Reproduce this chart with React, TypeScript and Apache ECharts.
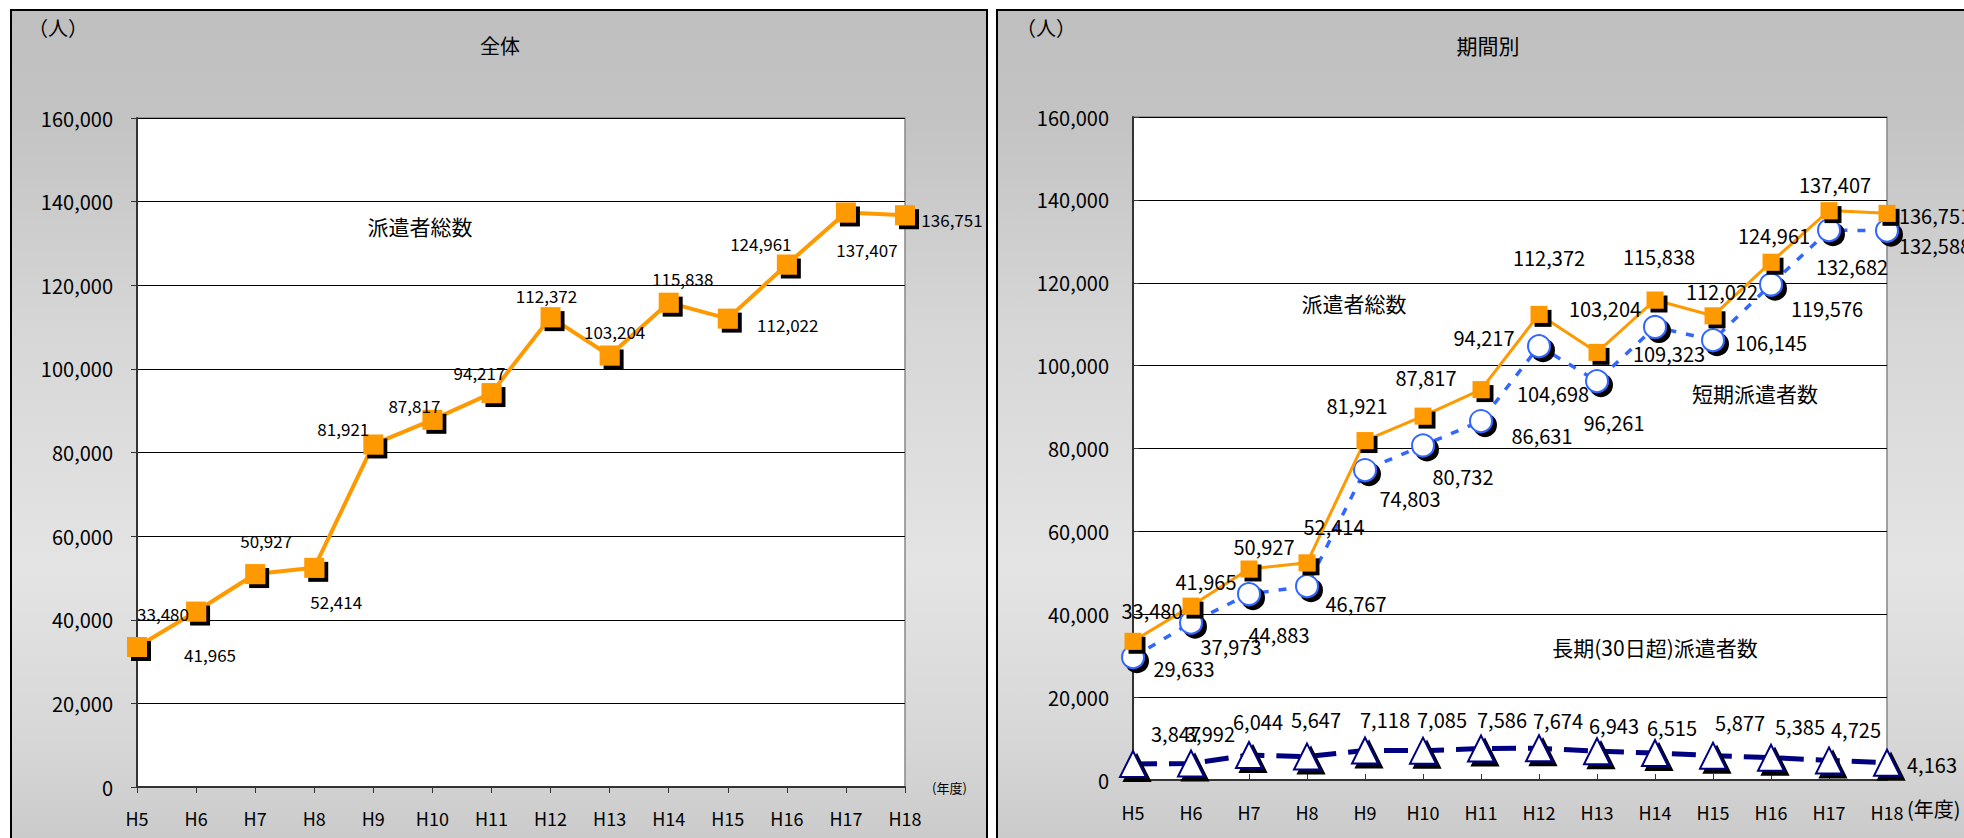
import React, { useEffect, useRef } from "react";
import * as echarts from "echarts";

const categories = ["H5", "H6", "H7", "H8", "H9", "H10", "H11", "H12", "H13", "H14", "H15", "H16", "H17", "H18"];
const totalValues = [33480, 41965, 50927, 52414, 81921, 87817, 94217, 112372, 103204, 115838, 112022, 124961, 137407, 136751];
const shortTermValues = [29633, 37973, 44883, 46767, 74803, 80732, 86631, 104698, 96261, 109323, 106145, 119576, 132682, 132588];
const longTermValues = [3847, 3992, 6044, 5647, 7118, 7085, 7586, 7674, 6943, 6515, 5877, 5385, 4725, 4163];
const yMin = 0;
const yMax = 160000;
const yInterval = 20000;

// label offsets (layout only)
const leftTotalOffsets = [[26, -34], [14, 43], [11, -34], [22, 34], [-30, -16], [-18, -14], [-12, -21], [-4, -22], [5, -24], [14, -24], [60, 6], [-26, -21], [21, 37], [47, 4]];
const rightTotalOffsets = [[19, -31], [15, -25], [15, -22], [27, -36], [-8, -35], [3, -39], [3, -52], [10, -57], [8, -44], [4, -43], [9, -24], [3, -27], [6, -26], [48, 2]];
const shortOffsets = [[51, 11], [40, 24], [30, 40], [49, 17], [45, 28], [40, 31], [61, 14], [14, 47], [17, 41], [14, 27], [58, 2], [56, 24], [23, 36], [48, 15]];
const longOffsets = [[43, -31], [19, -30], [9, -33], [9, -37], [20, -31], [19, -31], [21, -29], [19, -28], [17, -26], [17, -26], [27, -33], [29, -31], [27, -31], [45, 2]];

const FONT = '"Noto Sans CJK JP", "Noto Sans", sans-serif';
const fmt = (v: number) => v.toLocaleString("en-US");

function withOffsets(values: number[], offsets: number[][]) {
  return values.map((v, i) => ({ value: v, label: { offset: offsets[i] } }));
}

function labelBase(size: number) {
  return {
    show: true,
    position: "inside",
    formatter: (p: any) => fmt(p.value),
    color: "#000",
    fontSize: size,
    fontFamily: FONT,
    textBorderWidth: 0,
    textBorderColor: "transparent",
  };
}

const bgFill = {
  type: "linear",
  x: 0,
  y: 0,
  x2: 0,
  y2: 1,
  colorStops: [
    { offset: 0, color: "#bfbfbf" },
    { offset: 0.12, color: "#c3c3c3" },
    { offset: 0.35, color: "#d6d6d6" },
    { offset: 0.62, color: "#e4e4e4" },
    { offset: 0.82, color: "#d6d6d6" },
    { offset: 1, color: "#c2c2c2" },
  ],
};

function xAxis(gridIndex: number, inside: boolean, margin: number) {
  return {
    type: "category",
    gridIndex,
    data: categories,
    boundaryGap: false,
    axisLine: { show: true, lineStyle: { color: "#333", width: 2 } },
    axisTick: { show: true, inside, length: 6, lineStyle: { color: "#333" } },
    axisLabel: { interval: 0, color: "#000", fontSize: 18, fontFamily: FONT, margin },
    splitLine: { show: false },
  };
}

function yAxis(gridIndex: number, inside: boolean) {
  return {
    type: "value",
    gridIndex,
    min: yMin,
    max: yMax,
    interval: yInterval,
    axisLine: { show: true, lineStyle: { color: "#333", width: 2 } },
    axisTick: { show: true, inside, length: 6, lineStyle: { color: "#333" } },
    axisLabel: { color: "#000", fontSize: 20, fontFamily: FONT, margin: 24, formatter: (v: number) => fmt(v) },
    splitLine: { show: true, lineStyle: { color: "#000", width: 1 } },
  };
}

function txt(x: number, y: number, text: string, size: number, align = "center") {
  return {
    type: "text",
    x,
    y,
    z: 20,
    style: { text, fill: "#000", font: `${size}px ${FONT}`, align, verticalAlign: "middle" },
  };
}

export default function App() {
  const ref = useRef<HTMLDivElement>(null);
  useEffect(() => {
    if (!ref.current) return;
    const chart = echarts.init(ref.current, undefined, { renderer: "svg" });
    const shadow = { shadowColor: "#000", shadowOffsetX: 4, shadowOffsetY: 4, shadowBlur: 0 };
    const option: any = {
      animation: false,
      backgroundColor: "#fff",
      graphic: [
        { type: "rect", z: -10, shape: { x: 11, y: 10, width: 976, height: 900 }, style: { fill: bgFill, stroke: "#000", lineWidth: 2 } },
        { type: "rect", z: -10, shape: { x: 997, y: 10, width: 1000, height: 900 }, style: { fill: bgFill, stroke: "#000", lineWidth: 2 } },
        txt(28, 27, "（人）", 20, "left"),
        txt(500, 45, "全体", 20),
        txt(420, 226, "派遣者総数", 21),
        txt(932, 787, "(年度)", 13, "left"),
        txt(1016, 27, "（人）", 20, "left"),
        txt(1488, 45, "期間別", 21),
        txt(1354, 303, "派遣者総数", 21),
        txt(1755, 393, "短期派遣者数", 21),
        txt(1655, 647, "長期(30日超)派遣者数", 21),
        txt(1907, 808, "(年度)", 20, "left"),
      ],
      grid: [
        { left: 137, top: 118, width: 768, height: 669, show: true, backgroundColor: "#fff", borderColor: "#888", borderWidth: 1.5 },
        { left: 1133, top: 117, width: 754, height: 663, show: true, backgroundColor: "#fff", borderColor: "#888", borderWidth: 1.5 },
      ],
      xAxis: [xAxis(0, false, 22), xAxis(1, true, 23)],
      yAxis: [yAxis(0, false), yAxis(1, true)],
      series: [
        {
          name: "派遣者総数",
          type: "line",
          xAxisIndex: 0,
          yAxisIndex: 0,
          data: withOffsets(totalValues, leftTotalOffsets),
          symbol: "rect",
          symbolSize: 20,
          lineStyle: { color: "#ff9900", width: 4 },
          itemStyle: { color: "#ff9900", ...shadow },
          label: labelBase(17),
          z: 5,
        },
        {
          name: "長期(30日超)派遣者数",
          type: "line",
          xAxisIndex: 1,
          yAxisIndex: 1,
          data: withOffsets(longTermValues, longOffsets),
          symbol: "triangle",
          symbolSize: 26,
          lineStyle: { color: "#000080", width: 5, type: [24, 12] },
          itemStyle: { color: "#fff", borderColor: "#000080", borderWidth: 2, ...shadow },
          label: labelBase(20),
          z: 3,
        },
        {
          name: "短期派遣者数",
          type: "line",
          xAxisIndex: 1,
          yAxisIndex: 1,
          data: withOffsets(shortTermValues, shortOffsets),
          symbol: "circle",
          symbolSize: 22,
          lineStyle: { color: "#3366ff", width: 3.5, type: [8, 10] },
          itemStyle: { color: "#fff", borderColor: "#3366ff", borderWidth: 2, ...shadow },
          label: labelBase(20),
          z: 4,
        },
        {
          name: "派遣者総数",
          type: "line",
          xAxisIndex: 1,
          yAxisIndex: 1,
          data: withOffsets(totalValues, rightTotalOffsets),
          symbol: "rect",
          symbolSize: 17,
          lineStyle: { color: "#ff9900", width: 3 },
          itemStyle: { color: "#ff9900", ...shadow },
          label: labelBase(20),
          z: 5,
        },
      ],
    };
    chart.setOption(option);
    return () => chart.dispose();
  }, []);
  return <div ref={ref} style={{ position: "fixed", left: 0, top: 0, width: 1964, height: 838 }} />;
}
